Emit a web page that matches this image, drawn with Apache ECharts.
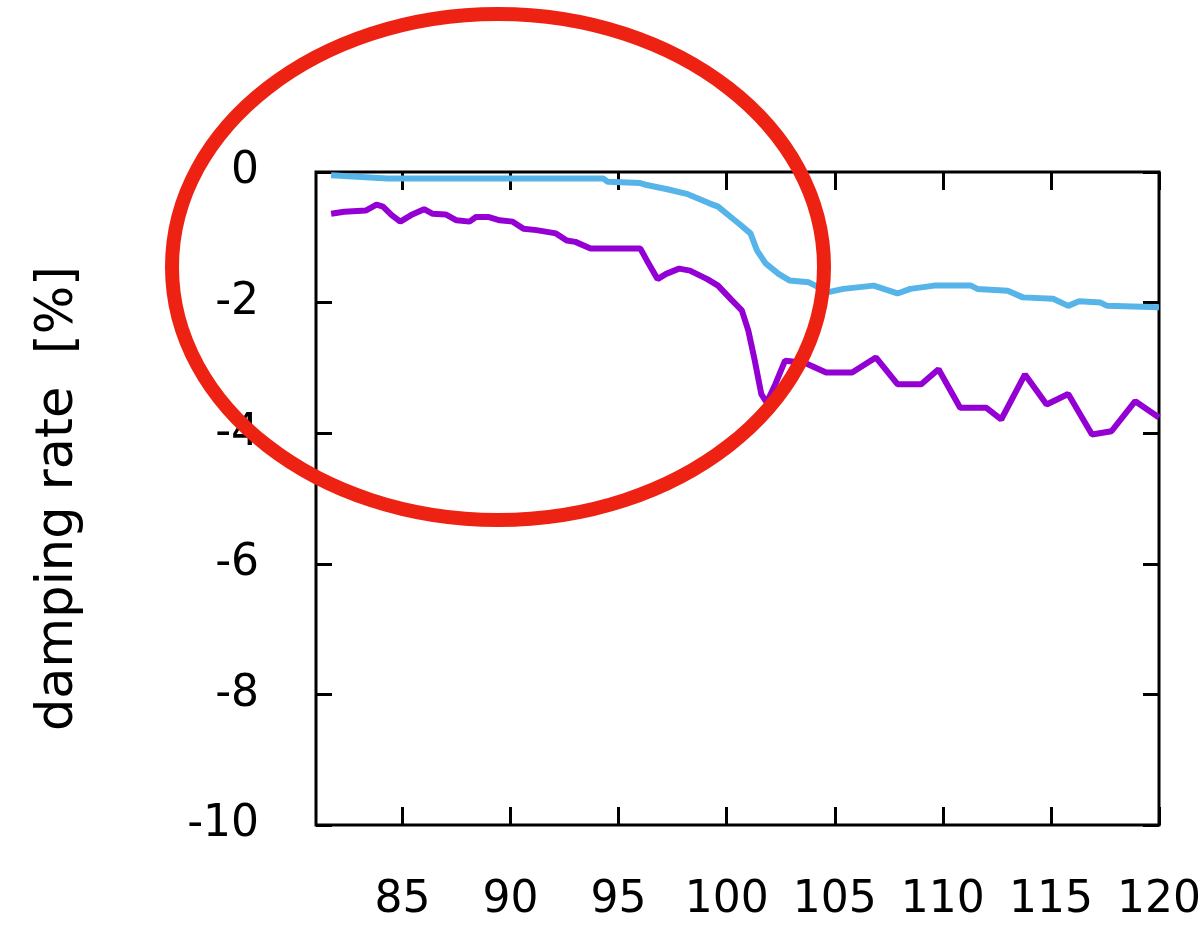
<!DOCTYPE html>
<html>
<head>
<meta charset="utf-8">
<script src="https://cdn.jsdelivr.net/npm/echarts@6/dist/echarts.min.js"></script>
<style>
html,body{margin:0;padding:0;background:#fff;}
#chart{width:1204px;height:928px;}
</style>
</head>
<body>
<div id="chart"></div>
<script>
// x values (frequency-like) and damping rates [%]
const purpleX = [81.7,82.3,83.3,83.8,84.1,84.5,84.9,85.4,86.0,86.4,87.0,87.5,88.1,88.4,89.0,89.5,90.1,90.6,91.2,92.1,92.6,93.0,93.7,96.0,96.3,96.8,97.2,97.8,98.3,99.1,99.6,100.2,100.7,101.0,101.3,101.6,101.85,102.25,102.7,103.6,104.6,105.8,106.9,107.9,109.0,109.8,110.8,112.0,112.7,113.8,114.8,115.8,116.9,117.8,118.9,120.0];
const purpleY = [-0.64,-0.61,-0.59,-0.50,-0.53,-0.66,-0.76,-0.66,-0.57,-0.64,-0.65,-0.74,-0.76,-0.69,-0.69,-0.74,-0.76,-0.87,-0.89,-0.94,-1.05,-1.07,-1.17,-1.17,-1.35,-1.64,-1.56,-1.48,-1.51,-1.64,-1.74,-1.95,-2.12,-2.43,-2.89,-3.40,-3.53,-3.25,-2.89,-2.92,-3.07,-3.07,-2.84,-3.25,-3.25,-3.02,-3.61,-3.61,-3.79,-3.10,-3.56,-3.40,-4.02,-3.97,-3.51,-3.76];
const blueX = [81.7,84.3,94.3,94.5,96.0,96.3,97.2,98.2,99.2,99.6,100.3,100.6,101.1,101.4,101.8,102.4,102.9,103.8,104.7,105.4,106.8,107.9,108.5,109.6,111.3,111.6,113.0,113.7,115.1,115.8,116.3,117.3,117.6,120.0];
const blueY = [-0.05,-0.10,-0.10,-0.15,-0.17,-0.20,-0.26,-0.34,-0.48,-0.53,-0.72,-0.80,-0.94,-1.20,-1.40,-1.56,-1.66,-1.69,-1.84,-1.79,-1.74,-1.86,-1.79,-1.74,-1.74,-1.79,-1.82,-1.92,-1.94,-2.05,-1.98,-2.00,-2.05,-2.07];
const xTicks = [85,90,95,100,105,110,115,120];
const yTicks = [0,-2,-4,-6,-8,-10];
const yTitle = 'damping rate  [%]';

const zip = (xs, ys) => xs.map((x, i) => [x, ys[i]]);
const FONT = 'DejaVu Sans';
const tickStyle = {color: '#000', width: 3};

const chart = echarts.init(document.getElementById('chart'), null, {renderer: 'canvas'});
chart.setOption({
  animation: false,
  backgroundColor: '#ffffff',
  grid: {left: 316, right: 44, top: 172, bottom: 103, show: true, borderColor: '#000', borderWidth: 3, backgroundColor: 'transparent'},
  xAxis: [
    {type: 'value', min: 81, max: 120, position: 'bottom',
     axisLine: {show: false, onZero: false},
     splitLine: {show: false},
     axisTick: {show: true, inside: true, length: 18, lineStyle: tickStyle, customValues: xTicks},
     axisLabel: {show: true, margin: 54, color: '#000', fontFamily: FONT, fontSize: 44, customValues: xTicks}},
    {type: 'value', min: 81, max: 120, position: 'top',
     axisLine: {show: false, onZero: false}, splitLine: {show: false},
     axisTick: {show: true, inside: true, length: 18, lineStyle: tickStyle, customValues: xTicks},
     axisLabel: {show: false}}
  ],
  yAxis: [
    {type: 'value', min: -10, max: 0, position: 'left',
     axisLine: {show: false, onZero: false}, splitLine: {show: false},
     axisTick: {show: true, inside: true, length: 16, lineStyle: tickStyle, customValues: yTicks},
     axisLabel: {show: true, margin: 57, color: '#000', fontFamily: FONT, fontSize: 44, customValues: yTicks},
     name: yTitle, nameLocation: 'middle', nameGap: 232,
     nameTextStyle: {fontFamily: FONT, fontSize: 51, color: '#000'}},
    {type: 'value', min: -10, max: 0, position: 'right',
     axisLine: {show: false, onZero: false}, splitLine: {show: false},
     axisTick: {show: true, inside: true, length: 16, lineStyle: tickStyle, customValues: yTicks},
     axisLabel: {show: false}}
  ],
  series: [
    {type: 'line', name: 'blue', data: zip(blueX, blueY), showSymbol: false, xAxisIndex: 0, yAxisIndex: 0,
     lineStyle: {color: '#56b4e9', width: 6}, z: 3},
    {type: 'line', name: 'purple', data: zip(purpleX, purpleY), showSymbol: false, xAxisIndex: 0, yAxisIndex: 0,
     lineStyle: {color: '#9400d3', width: 6}, z: 4}
  ],
  graphic: [
    {type: 'ellipse', z: 100, silent: true,
     shape: {cx: 498, cy: 267, rx: 326, ry: 253},
     style: {fill: 'none', stroke: '#ed2212', lineWidth: 14}}
  ]
});
</script>
</body>
</html>
